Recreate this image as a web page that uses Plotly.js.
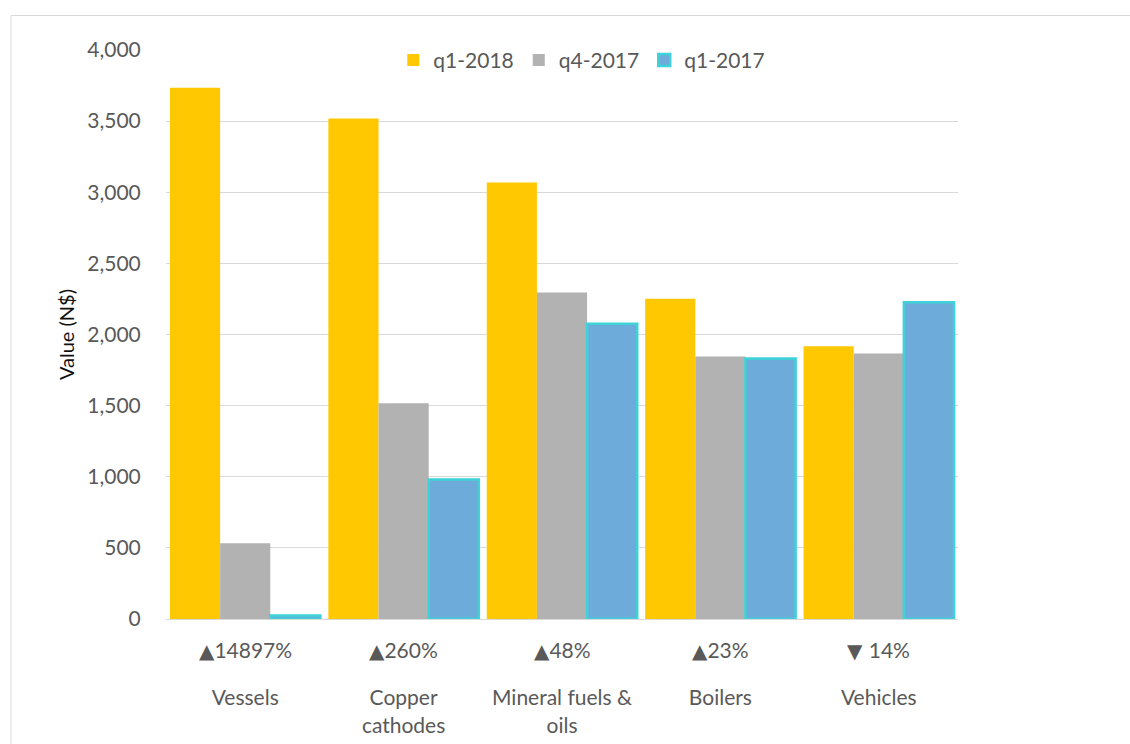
<!DOCTYPE html>
<html>
<head>
<meta charset="utf-8">
<script src="https://cdn.plot.ly/plotly-3.0.1.min.js"></script>
<style>html,body{margin:0;padding:0;background:#fff;}#chart{width:1130px;height:744px;}</style>
</head>
<body>
<div id="chart"></div>
<script>
const categories = ["Vessels", "Copper<br>cathodes", "Mineral fuels &<br>oils", "Boilers", "Vehicles"];
const changeArrows = ["▲", "▲", "▲", "▲", "▼ "];
const changeValues = ["14897%", "260%", "48%", "23%", "14%"];
const q1_2018 = [3735, 3518, 3068, 2252, 1918];
const q4_2017 = [532, 1516, 2296, 1846, 1866];
const q1_2017 = [25, 980, 2076, 1832, 2226];
const seriesNames = ["q1-2018", "q4-2017", "q1-2017"];

const xIdx = categories.map((c, i) => i);

const FONT = "Lato, 'Open Sans', sans-serif";
const TXT = "#595959";
const FS = 21;

const traces = [
  {type: "bar", name: seriesNames[0], x: xIdx, y: q1_2018, marker: {color: "#FFC800", line: {width: 0}}},
  {type: "bar", name: seriesNames[1], x: xIdx, y: q4_2017, marker: {color: "#B2B2B2", line: {width: 0}}},
  {type: "bar", name: seriesNames[2], x: xIdx, y: q1_2017, marker: {color: "#6DABDB", line: {color: "#3ED3D8", width: 2.5}}}
];

const annotations = xIdx.map(i => ({
  xref: "x", yref: "paper", x: i, y: -0.0544, yanchor: "middle", xanchor: "center",
  showarrow: false,
  text: "<span style=\"font-family:'DejaVu Sans';font-size:20px\">" + changeArrows[i] + "</span>" + changeValues[i],
  font: {family: FONT, size: FS, color: TXT}
}));

const layout = {
  width: 1130, height: 744,
  margin: {l: 166, r: 172, t: 50, b: 125},
  paper_bgcolor: "#fff", plot_bgcolor: "#fff",
  font: {family: FONT, size: FS, color: TXT},
  bargap: 0.05, bargroupgap: 0,
  barmode: "group",
  showlegend: true,
  legend: {orientation: "h", x: 0.525, xanchor: "center", y: 0.982, yanchor: "middle",
           font: {family: FONT, size: FS, color: TXT}, bgcolor: "rgba(0,0,0,0)", traceorder: "normal"},
  xaxis: {
    tickmode: "array", tickvals: xIdx, ticktext: categories,
    range: [-0.5, categories.length - 0.5],
    showline: true, linecolor: "#D9D9D9", linewidth: 1,
    ticks: "outside", ticklen: 60, tickcolor: "rgba(0,0,0,0)",
    tickfont: {family: FONT, size: FS, color: TXT},
    showgrid: false, zeroline: false, fixedrange: true
  },
  yaxis: {
    range: [0, 4000], dtick: 500, tickformat: ",",
    showgrid: true, gridcolor: "#D9D9D9", gridwidth: 1,
    zeroline: false, showline: false,
    ticks: "outside", ticklen: 20, tickcolor: "rgba(0,0,0,0)",
    tickfont: {family: FONT, size: FS, color: TXT},
    title: {text: "Value (N$)", font: {family: FONT, size: 20, color: "#111"}, standoff: 7},
    fixedrange: true
  },
  annotations: annotations,
  shapes: [{
    type: "rect", xref: "paper", yref: "paper",
    x0: -0.1957, x1: 1.5, y0: -0.5, y1: 1.0606,
    line: {color: "#D9D9D9", width: 1}, fillcolor: "rgba(0,0,0,0)", layer: "below"
  }]
};

Plotly.newPlot("chart", traces, layout, {displayModeBar: false, staticPlot: true});
</script>
</body>
</html>
